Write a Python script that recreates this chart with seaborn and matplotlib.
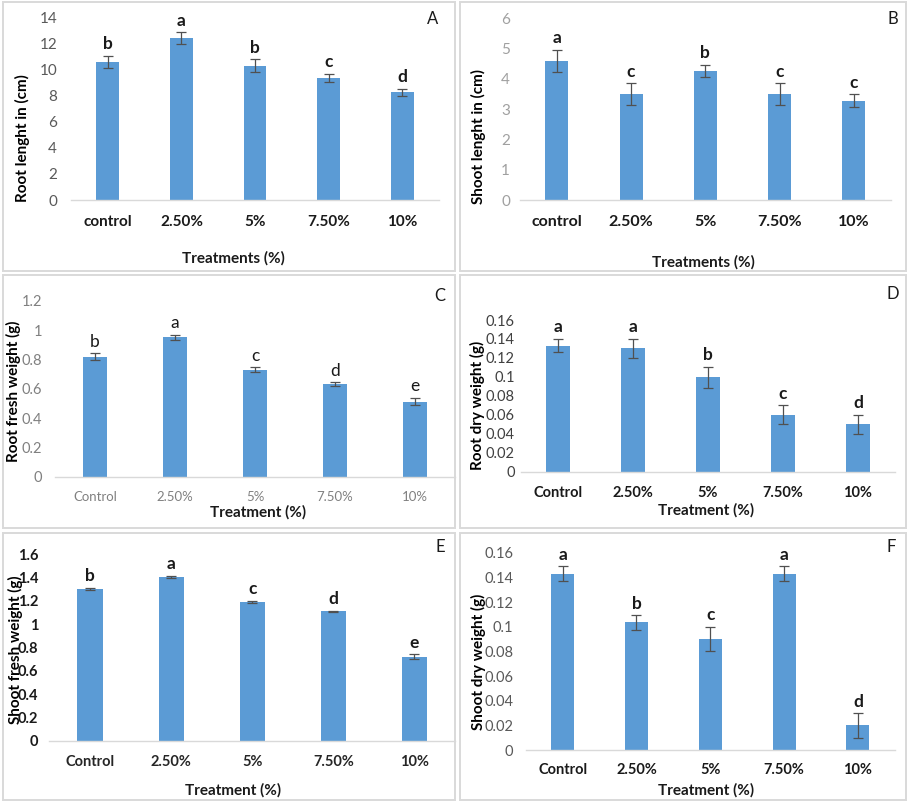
import matplotlib
matplotlib.use("Agg")
import matplotlib.pyplot as plt
import seaborn as sns
import pandas as pd
import numpy as np
from matplotlib.patches import Rectangle

sns.set_theme(style="white")
plt.rcParams['font.family'] = ['Lato', 'DejaVu Sans']

# ---------------- data ----------------
cats_lower = ["control", "2.50%", "5%", "7.50%", "10%"]
cats_upper = ["Control", "2.50%", "5%", "7.50%", "10%"]

root_length = [10.6, 12.4, 10.3, 9.35, 8.25]
root_length_err = [0.45, 0.45, 0.5, 0.33, 0.28]
root_length_letters = ["b", "a", "b", "c", "d"]

shoot_length = [4.59, 3.50, 4.27, 3.49, 3.28]
shoot_length_err = [0.37, 0.35, 0.2, 0.36, 0.22]
shoot_length_letters = ["a", "c", "b", "c", "c"]

root_fresh = [0.818, 0.95, 0.73, 0.63, 0.512]
root_fresh_err = [0.023, 0.018, 0.015, 0.013, 0.025]
root_fresh_letters = ["b", "a", "c", "d", "e"]

root_dry = [0.133, 0.130, 0.0995, 0.060, 0.050]
root_dry_err = [0.007, 0.010, 0.011, 0.010, 0.010]
root_dry_letters = ["a", "a", "b", "c", "d"]

shoot_fresh = [1.303, 1.406, 1.191, 1.109, 0.72]
shoot_fresh_err = [0.008, 0.008, 0.008, 0.005, 0.02]
shoot_fresh_letters = ["b", "a", "c", "d", "e"]

shoot_dry = [0.143, 0.1035, 0.090, 0.143, 0.020]
shoot_dry_err = [0.006, 0.006, 0.010, 0.006, 0.010]
shoot_dry_letters = ["a", "b", "c", "a", "d"]

BLUE = "#5B9BD5"
W, H = 912, 805
fig = plt.figure(figsize=(W / 100, H / 100), dpi=100)
fig.patch.set_facecolor("white")


def fx(x):
    return x / W


def fy(y):
    return 1 - y / H


panels = [
    dict(cats=cats_lower, vals=root_length, errs=root_length_err, letters=root_length_letters,
         box=(3, 2, 455, 271), ax=(71, 439, 17.3, 200), ymax=14, step=2,
         ylabel="Root lenght in (cm)", ylab_xy=(22, 138), xlabel="Treatments (%)", xlab_xy=(233, 258),
         tag="A", tag_xy=(433, 19), xt=dict(weight="bold", color="#1a1a1a", size=11),
         yt=dict(weight="normal", color="#595959", size=11), letter_w="bold", xpad=11, ypad=10),
    dict(cats=cats_lower, vals=shoot_length, errs=shoot_length_err, letters=shoot_length_letters,
         box=(460, 2, 906, 271), ax=(519.6, 891, 18.3, 200), ymax=6, step=1,
         ylabel="Shoot lenght in (cm)", ylab_xy=(478, 137), xlabel="Treatments (%)", xlab_xy=(703, 262),
         tag="B", tag_xy=(893, 19), xt=dict(weight="bold", color="#1a1a1a", size=11.5),
         yt=dict(weight="normal", color="#A0A0A0", size=11), letter_w="bold", xpad=11, ypad=7),
    dict(cats=cats_upper, vals=root_fresh, errs=root_fresh_err, letters=root_fresh_letters,
         box=(3, 275, 455, 528), ax=(55, 455, 300.7, 476.7), ymax=1.2, step=0.2,
         ylabel="Root fresh weight (g)", ylab_xy=(13, 391), xlabel="Treatment (%)", xlab_xy=(258, 512),
         tag="C", tag_xy=(440, 296), xt=dict(weight="normal", color="#808080", size=9.5),
         yt=dict(weight="normal", color="#808080", size=10.5), letter_w="normal", xpad=10, ypad=9),
    dict(cats=cats_upper, vals=root_dry, errs=root_dry_err, letters=root_dry_letters,
         box=(460, 275, 906, 528), ax=(520.5, 895.5, 320, 471.7), ymax=0.16, step=0.02,
         ylabel="Root dry weight (g)", ylab_xy=(477, 405), xlabel="Treatment (%)", xlab_xy=(706, 510),
         tag="D", tag_xy=(893, 294), xt=dict(weight="bold", color="#1a1a1a", size=10.5),
         yt=dict(weight="normal", color="#404040", size=10.5), letter_w="bold", xpad=10, ypad=4),
    dict(cats=cats_upper, vals=shoot_fresh, errs=shoot_fresh_err, letters=shoot_fresh_letters,
         box=(3, 533, 455, 800), ax=(49.5, 455, 554, 740.7), ymax=1.6, step=0.2,
         ylabel="Shoot fresh weight (g)", ylab_xy=(15, 650), xlabel="Treatment (%)", xlab_xy=(233, 790),
         tag="E", tag_xy=(440, 547), xt=dict(weight="bold", color="#262626", size=10.5),
         yt=dict(weight="bold", color="#1a1a1a", size=10.5), letter_w="bold", xpad=10, ypad=8),
    dict(cats=cats_upper, vals=shoot_dry, errs=shoot_dry_err, letters=shoot_dry_letters,
         box=(460, 533, 906, 800), ax=(525.8, 894.8, 552.7, 750), ymax=0.16, step=0.02,
         ylabel="Shoot dry weight (g)", ylab_xy=(478, 662), xlabel="Treatment (%)", xlab_xy=(706, 790),
         tag="F", tag_xy=(891, 547), xt=dict(weight="bold", color="#1a1a1a", size=10.5),
         yt=dict(weight="normal", color="#595959", size=10.5), letter_w="bold", xpad=9, ypad=9),
]

for p in panels:
    x0, y0, x1, y1 = p["box"]
    fig.add_artist(Rectangle((fx(x0), fy(y1)), fx(x1 - x0), (y1 - y0) / H,
                             transform=fig.transFigure, fill=False,
                             edgecolor="#D9D9D9", linewidth=1.4))
    l, r, t, b = p["ax"]
    ax = fig.add_axes([fx(l), fy(b), fx(r - l), (b - t) / H])
    ax.set_facecolor("none")
    df = pd.DataFrame({"Treatment": p["cats"], "Value": p["vals"]})
    sns.barplot(data=df, x="Treatment", y="Value", color=BLUE, saturation=1,
                width=0.31, errorbar=None, ax=ax, linewidth=0)
    xs = np.arange(len(p["cats"]))
    ax.errorbar(xs, p["vals"], yerr=p["errs"], fmt="none", ecolor="#505050",
                elinewidth=0.9, capsize=3.5, capthick=0.9)
    for xi, v, e, lt in zip(xs, p["vals"], p["errs"], p["letters"]):
        ax.annotate(lt, (xi, v + e), xytext=(0, 2.5), textcoords="offset points",
                    ha="center", va="bottom", fontsize=12.5, fontweight=p["letter_w"],
                    color="#1a1a1a")
    ax.set_xlim(-0.5, len(p["cats"]) - 0.5)
    ax.set_ylim(0, p["ymax"])
    ticks = np.round(np.arange(0, p["ymax"] + p["step"] / 2, p["step"]), 4)
    ax.set_yticks(ticks)
    ax.set_yticklabels([f"{t:g}" for t in ticks], **p["yt"])
    ax.set_xticks(xs)
    ax.set_xticklabels(p["cats"], **p["xt"])
    ax.tick_params(axis="both", length=0)
    ax.tick_params(axis="x", pad=p["xpad"])
    ax.tick_params(axis="y", pad=p["ypad"])
    for s in ["top", "right", "left"]:
        ax.spines[s].set_visible(False)
    ax.spines["bottom"].set_color("#D9D9D9")
    ax.spines["bottom"].set_linewidth(1.0)
    ax.set_xlabel("")
    ax.set_ylabel("")
    ax.grid(False)
    fig.text(fx(p["ylab_xy"][0]), fy(p["ylab_xy"][1]), p["ylabel"], rotation=90,
             ha="center", va="center", fontsize=11, fontweight="bold", color="#000000")
    fig.text(fx(p["xlab_xy"][0]), fy(p["xlab_xy"][1]), p["xlabel"],
             ha="center", va="center", fontsize=11, fontweight="bold", color="#1a1a1a")
    fig.text(fx(p["tag_xy"][0]), fy(p["tag_xy"][1]), p["tag"],
             ha="center", va="center", fontsize=12, color="#1a1a1a")

fig.savefig("out.png", dpi=100, facecolor="white")
